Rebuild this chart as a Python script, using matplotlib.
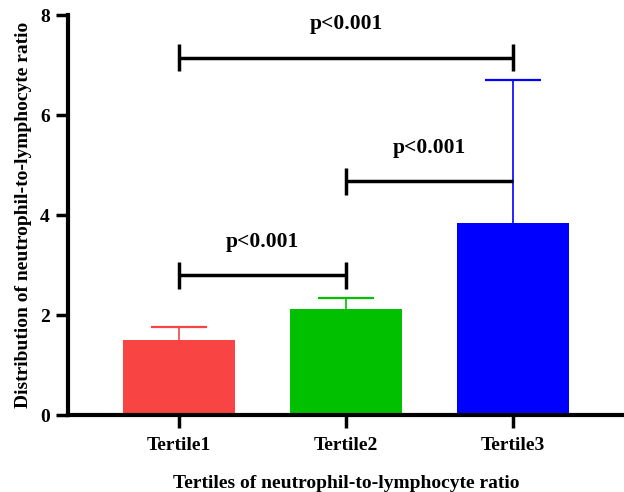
import matplotlib
matplotlib.use("Agg")
import matplotlib.pyplot as plt

categories = ["Tertile1", "Tertile2", "Tertile3"]
means = [1.50, 2.13, 3.84]
upper_sd = [0.27, 0.21, 2.87]
colors = ["#F94444", "#00C000", "#0000FF"]
yticks = [0, 2, 4, 6, 8]
# brackets: (left index, right index, y, label, show right tick)
brackets = [(0, 2, 7.15, "p<0.001", True), (1, 2, 4.68, "p<0.001", False), (0, 1, 2.80, "p<0.001", True)]

plt.rcParams['font.family'] = ['Liberation Serif', 'DejaVu Serif']
plt.rcParams['font.weight'] = 'bold'

fig = plt.figure(figsize=(6.24, 4.92), dpi=100)
ax = fig.add_axes([68/624, 1-415/492, 1-68/624, 400/492])

x = list(range(len(categories)))
ax.bar(x, means, width=0.67, color=colors, zorder=2)
cap_half = 0.168
for xi, m, e, c in zip(x, means, upper_sd, colors):
    ax.plot([xi, xi], [m, m + e], color=c, lw=1.2, zorder=1)
    ax.plot([xi - cap_half, xi + cap_half], [m + e, m + e], color=c, lw=1.6,
            solid_capstyle='butt', zorder=1)

for l, r, y, lab, rtick in brackets:
    h = 0.27
    ax.plot([x[l], x[r]], [y, y], color='black', lw=2.5, solid_capstyle='butt', zorder=3)
    ax.plot([x[l], x[l]], [y-h, y+h], color='black', lw=2.5, solid_capstyle='butt', zorder=3)
    if rtick:
        ax.plot([x[r], x[r]], [y-h, y+h], color='black', lw=2.5, solid_capstyle='butt', zorder=3)
    ax.text((x[l]+x[r])/2, y+0.46, lab, ha='center', va='bottom', fontsize=15.5, fontweight='bold')

ax.set_xlim(-0.665, 2.665)
ax.set_ylim(0, 8)
ax.set_yticks(yticks)
ax.set_xticks(x)
ax.set_xticklabels(categories)
for s in ['top', 'right']:
    ax.spines[s].set_visible(False)
for s in ['left', 'bottom']:
    ax.spines[s].set_linewidth(3)
ax.tick_params(axis='both', width=2.5, length=9, labelsize=14)
ax.tick_params(axis='x', pad=7)
ax.tick_params(axis='y', pad=4)
for lbl in ax.get_xticklabels() + ax.get_yticklabels():
    lbl.set_fontweight('bold')
ax.set_ylabel("Distribution of neutrophil-to-lymphocyte ratio", fontsize=14, fontweight='bold', labelpad=6)
ax.set_xlabel("Tertiles of neutrophil-to-lymphocyte ratio", fontsize=14, fontweight='bold', labelpad=15)

fig.savefig("out.png", dpi=100)
